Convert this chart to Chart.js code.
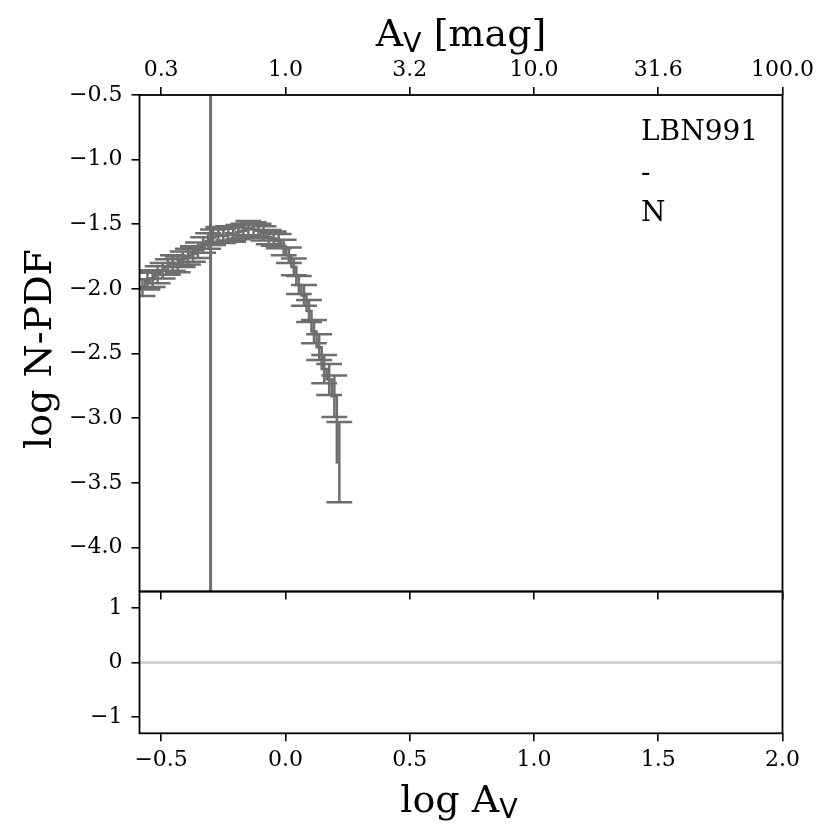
<!DOCTYPE html>
<html><head><meta charset="utf-8">
<script src="https://cdn.jsdelivr.net/npm/chart.js@4.4.1/dist/chart.umd.min.js"></script>
<style>
html,body{margin:0;padding:0;background:#fff;}
#wrap{position:relative;width:830px;height:840px;overflow:hidden;background:#fff;}
canvas{position:absolute;left:0;}
.t{position:absolute;font-family:'DejaVu Serif';font-size:38px;line-height:38px;white-space:nowrap;color:#000;}
.t sub{font-family:'DejaVu Sans';font-size:27px;vertical-align:-6px;line-height:0;}
#ann{position:absolute;left:641px;top:111px;font-family:'DejaVu Serif';font-size:28px;line-height:40.5px;color:#000;white-space:pre;}
</style></head><body>
<div id="wrap">
<canvas id="c1" style="top:0;width:830px;height:620px"></canvas>
<canvas id="c2" style="top:580px;width:830px;height:260px"></canvas>
<div class="t" style="left:261px;width:400px;top:14px;text-align:center">A<sub>V</sub> [mag]</div>
<div class="t" style="left:259px;width:400px;top:779.5px;text-align:center">log A<sub>V</sub></div>
<div class="t" style="left:-112px;width:300px;top:329.5px;text-align:center;transform:rotate(-90deg);transform-origin:50% 50%;">log N-PDF</div>
<div id="ann">LBN991
-
N</div>
</div>
<script>
// ---- data ----
const logAv = [-0.575,-0.555,-0.534,-0.514,-0.494,-0.473,-0.453,-0.433,-0.413,-0.392,
               -0.372,-0.352,-0.331,-0.311,-0.291,-0.270,-0.250,-0.230,-0.210,-0.189,
               -0.169,-0.149,-0.128,-0.108,-0.088,-0.067,-0.047,-0.027,-0.007,0.014,
               0.034,0.054,0.075,0.095,0.115,0.136,0.156,0.176,0.197,0.217];
const logNpdf = [-1.99,-1.94,-1.92,-1.89,-1.86,-1.83,-1.80,-1.81,-1.77,-1.75,
                 -1.73,-1.70,-1.66,-1.63,-1.60,-1.58,-1.59,-1.57,-1.58,-1.56,
                 -1.55,-1.53,-1.54,-1.55,-1.57,-1.60,-1.61,-1.63,-1.68,-1.74,
                 -1.83,-1.97,-2.05,-2.17,-2.33,-2.45,-2.62,-2.70,-2.83,-3.34];
const errNpdf = [0.065,0.065,0.065,0.065,0.06,0.06,0.06,0.06,0.06,0.06,
                 0.06,0.06,0.06,0.06,0.06,0.06,0.055,0.055,0.055,0.055,
                 0.055,0.055,0.055,0.055,0.055,0.055,0.055,0.055,0.06,0.06,
                 0.065,0.07,0.08,0.085,0.09,0.10,0.11,0.12,0.16,0.31];
const xTicks = [-0.5,0.0,0.5,1.0,1.5,2.0];
const yTicksMain = [-4.0,-3.5,-3.0,-2.5,-2.0,-1.5,-1.0,-0.5];
const yTicksResid = [-1,0,1];
const avThreshold = [0.5];   // A_V [mag] marked by the vertical line
const residLevel = [0];

// ---- ranges / styles ----
const X_MIN=-0.587, X_MAX=2.0, Y_MIN=-4.34, Y_MAX=-0.5, R_MIN=-1.3, R_MAX=1.3;
const GRAY='#6e6e6e', CAP=0.052;
const TF={family:"'DejaVu Serif', serif",size:22};
Chart.defaults.font.family="'DejaVu Serif', serif";
Chart.defaults.font.size=22;
Chart.defaults.color='#000';

const fmt1 = v => (v<0?'\u2212':'')+Math.abs(v).toFixed(1);
const fmt0 = v => (v<0?'\u2212':'')+Math.abs(v).toFixed(0);

const stepPts = logAv.map((x,i)=>({x, y:logNpdf[i]}));
const barPts=[], capPts=[];
logAv.forEach((x,i)=>{
  const lo=logNpdf[i]-errNpdf[i], hi=logNpdf[i]+errNpdf[i];
  barPts.push({x,y:lo},{x,y:hi},{x,y:null});
  capPts.push({x:x-CAP,y:lo},{x:x+CAP,y:lo},{x,y:null},{x:x-CAP,y:hi},{x:x+CAP,y:hi},{x,y:null});
});
const vx = Math.log10(avThreshold[0]);

const frame={id:'frame',afterDraw(c){const a=c.chartArea,ctx=c.ctx;ctx.save();ctx.strokeStyle='#000';ctx.lineWidth=1.8;ctx.strokeRect(a.left,a.top,a.right-a.left,a.bottom-a.top);ctx.restore();}};
const gridOpts={drawOnChartArea:false,drawTicks:true,tickLength:8,color:'#000',lineWidth:1.6};
const setTicks = arr => s => { s.ticks = arr.map(v=>({value:v})); };
const noPad = s => { s.paddingTop=0; s.paddingBottom=0; s.paddingLeft=0; s.paddingRight=0; };
const fitH = h => s => { s.height=h; noPad(s); };
const fitW = w => s => { s.width=w; noPad(s); };
const lineDs = (data,color,w,extra) => Object.assign({data,borderColor:color,borderWidth:w,pointRadius:0,showLine:true,fill:false,spanGaps:false,borderCapStyle:'butt'},extra||{});

new Chart(document.getElementById('c1'),{
  type:'scatter',
  data:{datasets:[
    lineDs(barPts,GRAY,2.5),
    lineDs(capPts,GRAY,2.5),
    lineDs(stepPts,GRAY,2.5,{stepped:'middle'}),
    lineDs([{x:vx,y:Y_MAX},{x:vx,y:Y_MIN}],GRAY,3)
  ]},
  options:{
    responsive:false,animation:false,
    layout:{padding:{left:0,right:47.5,top:0,bottom:18.5}},
    plugins:{legend:{display:false},tooltip:{enabled:false}},
    scales:{
      x:{type:'linear',position:'bottom',min:X_MIN,max:X_MAX,afterBuildTicks:setTicks(xTicks),
         ticks:{display:false,font:TF},grid:gridOpts,border:{display:false},afterFit:fitH(10)},
      x2:{type:'linear',position:'top',min:X_MIN,max:X_MAX,afterBuildTicks:setTicks(xTicks),
         ticks:{padding:4,autoSkip:false,maxRotation:0,font:TF,callback:v=>Math.pow(10,v).toFixed(1)},
         grid:gridOpts,border:{display:false},afterFit:fitH(95)},
      y:{type:'linear',position:'left',min:Y_MIN,max:Y_MAX,afterBuildTicks:setTicks(yTicksMain),
         ticks:{padding:9,autoSkip:false,font:TF,callback:v=>fmt1(v)},
         grid:gridOpts,border:{display:false},afterFit:fitW(139.5)}
    }
  },
  plugins:[frame]
});

new Chart(document.getElementById('c2'),{
  type:'scatter',
  data:{datasets:[
    lineDs([{x:X_MIN,y:residLevel[0]},{x:X_MAX,y:residLevel[0]}],'#d3d3d3',3)
  ]},
  options:{
    responsive:false,animation:false,
    layout:{padding:{left:0,right:47.5,top:11.5,bottom:0}},
    plugins:{legend:{display:false},tooltip:{enabled:false}},
    scales:{
      x:{type:'linear',position:'bottom',min:X_MIN,max:X_MAX,afterBuildTicks:setTicks(xTicks),
         ticks:{padding:6,autoSkip:false,maxRotation:0,font:TF,callback:v=>fmt1(v)},
         grid:gridOpts,border:{display:false},afterFit:fitH(106.7)},
      y:{type:'linear',position:'left',min:R_MIN,max:R_MAX,afterBuildTicks:setTicks(yTicksResid),
         ticks:{padding:9,autoSkip:false,font:TF,callback:v=>fmt0(v)},
         grid:gridOpts,border:{display:false},afterFit:fitW(139.5)}
    }
  },
  plugins:[frame]
});
</script>
</body></html>
